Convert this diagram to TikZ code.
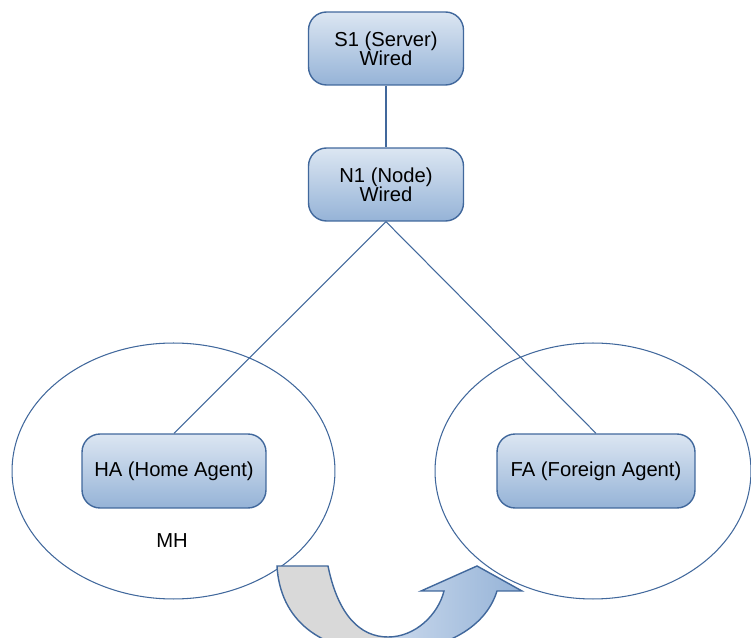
\documentclass[tikz,border=0pt]{standalone}
\usepackage{fontspec}
\setmainfont{Liberation Sans}
\usetikzlibrary{shapes.geometric}
\definecolor{edgeblue}{HTML}{41689C}
\definecolor{boxtop}{HTML}{DCE6F2}
\definecolor{boxbot}{HTML}{95B3D7}
\definecolor{tailgray}{HTML}{D9D9D9}
\definecolor{headlight}{HTML}{C9D8EC}
\newcommand\movepath{(277,566) -- (328,566) .. controls (338,615) and (360,637) .. (388,637)
  .. controls (415,637) and (438,615) .. (444,591) -- (421,591) -- (477,566) -- (522,591) -- (497,591)
  .. controls (485,630) and (440,652) .. (385,652) .. controls (320,652) and (280,620) .. (277,566) -- cycle}

\begin{document}
\begin{tikzpicture}[x=0.02cm,y=-0.02cm,
    agent/.style={rounded corners=0.36cm,draw=edgeblue,line width=0.8pt,top color=boxtop,bottom color=boxbot,
      align=center,font=\fontsize{11.5}{11}\selectfont,minimum height=1.46cm},
    cell/.style={ellipse,draw=edgeblue,line width=0.6pt,minimum height=5.12cm},
    link/.style={draw=edgeblue,line width=0.6pt}
    ]
\useasboundingbox (0,0) rectangle (751,638);

% Cells
\node[cell,minimum width=6.46cm] (homecell) at (173.5,471) {};
\node[cell,minimum width=6.32cm] (forcell) at (593,471) {};
\node[font=\fontsize{11.5}{13}\selectfont] (mh) at (172,541) {MH};

% Wired part
\node[agent,minimum width=3.1cm] (S1) at (386,48.5) {S1 (Server)\\Wired};
\node[agent,minimum width=3.1cm] (N1) at (386,184.5) {N1 (Node)\\Wired};

% Agents
\node[agent,minimum width=3.68cm,minimum height=1.48cm] (HA) at (174,471) {HA (Home Agent)};
\node[agent,minimum width=3.96cm,minimum height=1.48cm] (FA) at (596,471) {FA (Foreign Agent)};

\draw[link] (S1) -- (N1);
\draw[link] (N1.south) -- (HA.north);
\draw[link] (N1.south) -- (FA.north);

% Handover arrow
\begin{scope}
\clip \movepath;
\fill[tailgray] (270,555) rectangle (388,660);
\shade[left color=headlight,right color=boxbot] (388,555) rectangle (522,660);
\end{scope}
\draw[link,line width=0.8pt] \movepath;

\end{tikzpicture}
\end{document}
